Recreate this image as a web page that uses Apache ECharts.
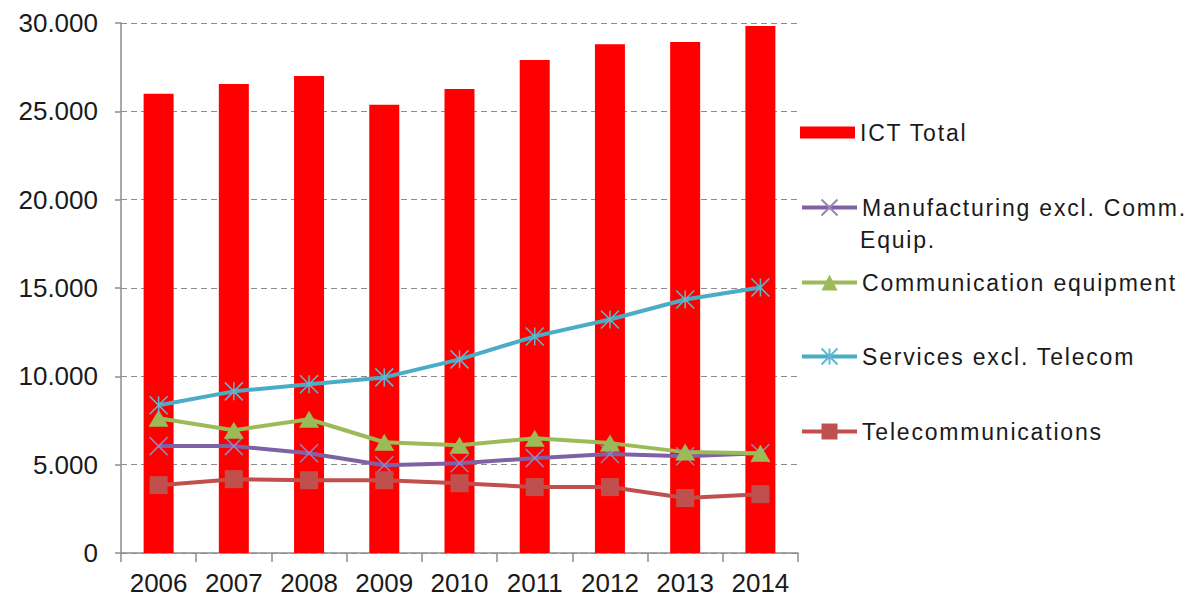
<!DOCTYPE html>
<html>
<head>
<meta charset="utf-8">
<script src="https://cdn.jsdelivr.net/npm/echarts@6/dist/echarts.min.js"></script>
<style>
  html, body { margin: 0; padding: 0; background: #fff; }
  #chart { width: 1192px; height: 605px; }
  /* legend text in the original is set quite loose */
  #chart text[style*="23px"] { letter-spacing: 1.8px; }
</style>
</head>
<body>
<div id="chart"></div>
<script>
const years = ['2006', '2007', '2008', '2009', '2010', '2011', '2012', '2013', '2014'];
const ictTotal = [26000, 26550, 27000, 25370, 26270, 27900, 28800, 28930, 29830];
const manufacturing = [6050, 6050, 5650, 4970, 5080, 5370, 5600, 5480, 5650];
const commEquipment = [7630, 6950, 7570, 6270, 6100, 6500, 6220, 5710, 5650];
const servicesExTelecom = [8360, 9150, 9550, 9940, 10960, 12260, 13220, 14350, 15030];
const telecom = [3840, 4180, 4120, 4120, 3950, 3730, 3730, 3110, 3330];

const names = [
    'ICT Total',
    'Manufacturing excl. Comm. Equip.',
    'Communication equipment',
    'Services excl. Telecom',
    'Telecommunications'
];

const FONT = "'Liberation Sans', Arial, sans-serif";
const crossPath = 'path://M0,0L10,10M10,0L0,10';
const starPath = 'path://M5,0L5,10M0,0L10,10M10,0L0,10';

const chart = echarts.init(document.getElementById('chart'), null, { renderer: 'svg' });

// one legend per entry, so each can sit at its own height
const legendMid = [133, 208, 283, 357, 432];
const legends = names.map((n, i) => ({
    data: [n],
    orient: 'vertical',
    left: 800,
    top: legendMid[i] - 12,
    padding: 0,
    icon: i === 0 ? 'rect' : undefined,
    itemWidth: 55,
    itemHeight: i === 0 ? 12 : 20,
    itemGap: 0,
    lineStyle: { width: 4 },
    formatter: n === names[1] ? 'Manufacturing excl. Comm.' : '{name}',
    textStyle: { fontFamily: FONT, fontSize: 23, color: '#1a1a1a' }
}));

const lineSeries = (name, data, color, symbol, size, markColor) => ({
    name: name,
    type: 'line',
    data: data,
    symbol: symbol,
    symbolSize: size,
    lineStyle: { color: color, width: 4 },
    itemStyle: symbol.startsWith('path') ? {
        color: 'transparent', borderColor: markColor, borderWidth: 1.5
    } : { color: markColor },
    z: 3
});

const option = {
    backgroundColor: '#fff',
    animation: false,
    textStyle: { fontFamily: FONT },
    legend: legends,
    // second line of the wrapped legend entry
    graphic: [{
        type: 'text',
        left: 860,
        top: 228,
        style: { text: 'Equip.', fontFamily: FONT, fontSize: 23, fill: '#1a1a1a' }
    }],
    grid: { left: 121, right: 394, top: 23, bottom: 52, containLabel: false },
    xAxis: {
        type: 'category',
        data: years,
        axisLine: { lineStyle: { color: '#8c8c8c', width: 1.5 } },
        axisTick: { show: true, length: 9, lineStyle: { color: '#8c8c8c', width: 1.5 } },
        axisLabel: { fontSize: 26, color: '#1a1a1a', margin: 17, fontFamily: FONT }
    },
    yAxis: {
        type: 'value',
        min: 0,
        max: 30000,
        interval: 5000,
        axisLine: { show: true, lineStyle: { color: '#8c8c8c', width: 1.5 } },
        axisTick: { show: true, length: 6, lineStyle: { color: '#8c8c8c', width: 1.5 } },
        axisLabel: {
            fontSize: 26, color: '#1a1a1a', margin: 23, fontFamily: FONT,
            formatter: v => String(v).replace(/\B(?=(\d{3})+(?!\d))/g, '.')
        },
        splitLine: { lineStyle: { color: '#8c8c8c', type: [6, 4], width: 1 } }
    },
    series: [
        {
            name: names[0],
            type: 'bar',
            data: ictTotal,
            barWidth: 30,
            itemStyle: { color: '#ff0000' },
            z: 2
        },
        lineSeries(names[1], manufacturing, '#7f62a3', crossPath, 18, '#9a82c0'),
        lineSeries(names[2], commEquipment, '#9bbb59', 'triangle', [20, 17], '#9bbb59'),
        lineSeries(names[3], servicesExTelecom, '#4bacc6', starPath, 18, '#62b8d0'),
        lineSeries(names[4], telecom, '#c0504d', 'rect', 18, '#c0504d')
    ]
};

chart.setOption(option);
</script>
</body>
</html>
